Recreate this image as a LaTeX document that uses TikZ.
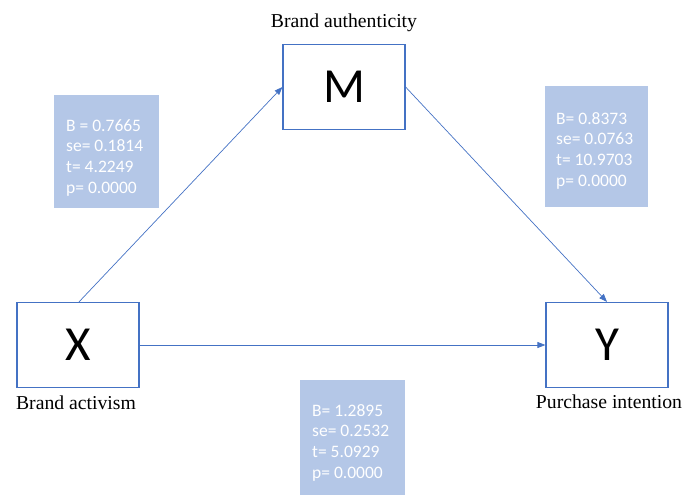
\documentclass[tikz,border=0pt]{standalone}
\usepackage{fontspec}
\setmainfont{Liberation Serif}
\newfontfamily\statfont{Carlito}
\usetikzlibrary{arrows.meta}
\definecolor{edgeblue}{HTML}{4472C4}
\definecolor{statfill}{HTML}{B4C7E7}
\begin{document}
\begin{tikzpicture}[x=1pt,y=-1pt,
  varbox/.style={draw=edgeblue,line width=1.2pt,minimum width=122pt,minimum height=85pt,
    inner sep=0pt,font=\statfont\fontsize{49}{49}\selectfont},
  statbox/.style={fill=statfill,inner sep=0pt,anchor=north west},
  stattext/.style={text=white,inner sep=0pt,anchor=north west,align=left,
    font=\statfont\fontsize{17.5}{20.7}\selectfont},
  varlabel/.style={inner sep=0pt,anchor=base,font=\fontsize{19.7}{19.7}\selectfont},
  path/.style={draw=edgeblue,line width=0.7pt,-{Triangle[length=8pt,width=6pt]}}]
\useasboundingbox (0,0) rectangle (685,495);

% variables
\node[varbox] (M) at (344,87) {M};
\node[varbox] (X) at (78,345) {X};
\node[varbox] (Y) at (607,345) {Y};

\node[varlabel] (Mlab) at (344,28) {Brand authenticity};
\node[varlabel] (Xlab) at (76,409) {Brand activism};
\node[varlabel] (Ylab) at (609,408) {Purchase intention};

% coefficient panels
\node[statbox,minimum width=105pt,minimum height=113pt] (a) at (54,95) {};
\node[stattext] (at) at (66,119) {B = 0.7665\\se= 0.1814\\t= 4.2249\\p= 0.0000};

\node[statbox,minimum width=103pt,minimum height=121pt] (b) at (545,86) {};
\node[stattext] (bt) at (556,112) {B= 0.8373\\se= 0.0763\\t= 10.9703\\p= 0.0000};

\node[statbox,minimum width=105pt,minimum height=115pt] (c) at (300,380) {};
\node[stattext] (ct) at (312,404) {B= 1.2895\\se= 0.2532\\t= 5.0929\\p= 0.0000};

% paths
\coordinate (xtop) at ([xshift=1pt]X.north);
\draw[path] (xtop) -- (M.west);
\draw[path] (M.east) -- (Y.north);
\draw[path] (X.east) -- (Y.west);
\end{tikzpicture}
\end{document}
